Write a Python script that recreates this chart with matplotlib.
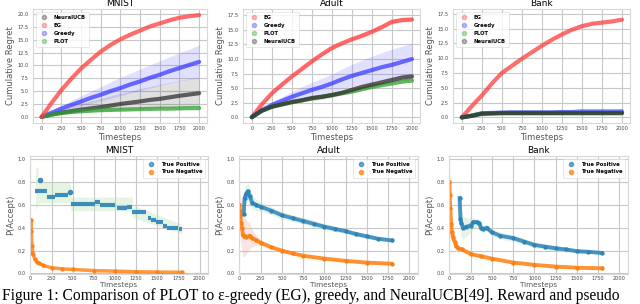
import numpy as np
import matplotlib.pyplot as plt
from matplotlib.lines import Line2D

# ---------------- data: cumulative regret (top row) ----------------
steps = [0, 125, 250, 375, 500, 625, 750, 875, 1000, 1125, 1250, 1375, 1500, 1625, 1750, 1875, 2000]

mnist_eg = [0, 2.7, 5.2, 7.4, 9.4, 11.1, 12.7, 14.0, 15.1, 16.0, 16.8, 17.6, 18.2, 18.8, 19.3, 19.6, 19.8]
mnist_greedy = [0, 0.8, 1.6, 2.3, 3.0, 3.7, 4.3, 5.0, 5.6, 6.3, 6.9, 7.6, 8.2, 8.9, 9.5, 10.1, 10.7]
mnist_greedy_hi = [0, 1.2, 2.2, 3.2, 4.1, 5.0, 5.9, 6.8, 7.7, 8.5, 9.3, 10.1, 10.9, 11.7, 12.5, 13.2, 14.0]
mnist_greedy_lo = [0, 0.5, 1.1, 1.6, 2.1, 2.6, 3.1, 3.6, 4.1, 4.6, 5.1, 5.6, 6.1, 6.6, 7.0, 7.3, 7.6]
mnist_nucb = [0, 0.45, 0.8, 1.1, 1.4, 1.65, 1.9, 2.2, 2.5, 2.75, 3.0, 3.3, 3.5, 3.8, 4.1, 4.35, 4.6]
mnist_nucb_hi = [0, 0.8, 1.5, 2.0, 2.6, 3.1, 3.6, 4.1, 4.6, 5.0, 5.5, 5.9, 6.3, 6.7, 7.1, 7.4, 7.7]
mnist_nucb_lo = [0, 0.3, 0.5, 0.7, 0.8, 0.95, 1.1, 1.2, 1.35, 1.45, 1.55, 1.65, 1.75, 1.85, 1.95, 2.05, 2.1]
mnist_plot = [0, 0.45, 0.75, 0.95, 1.1, 1.2, 1.3, 1.35, 1.4, 1.45, 1.5, 1.55, 1.6, 1.6, 1.65, 1.7, 1.7]

adult_eg = [0, 2.2, 4.1, 5.6, 7.0, 8.3, 9.6, 10.8, 11.9, 12.7, 13.4, 14.0, 14.7, 15.5, 16.4, 16.7, 16.8]
adult_eg_hi = [0, 2.4, 4.4, 5.9, 7.3, 8.6, 9.9, 11.1, 12.2, 13.0, 13.7, 14.4, 15.1, 15.9, 16.8, 17.1, 17.2]
adult_eg_lo = [0, 2.0, 3.8, 5.3, 6.7, 8.0, 9.3, 10.5, 11.6, 12.4, 13.1, 13.6, 14.3, 15.1, 16.0, 16.3, 16.4]
adult_greedy = [0, 1.2, 2.1, 2.8, 3.5, 4.1, 4.7, 5.2, 5.8, 6.5, 7.1, 7.6, 8.1, 8.6, 9.0, 9.5, 10.0]
adult_greedy_hi = [0, 1.5, 2.6, 3.5, 4.4, 5.2, 6.0, 6.7, 7.4, 8.3, 9.1, 9.8, 10.5, 11.1, 11.7, 12.2, 12.7]
adult_greedy_lo = [0, 0.9, 1.6, 2.1, 2.6, 3.0, 3.4, 3.8, 4.2, 4.8, 5.3, 5.7, 6.1, 6.5, 6.8, 7.1, 7.4]
adult_plot = [0, 1.1, 1.8, 2.2, 2.6, 2.9, 3.2, 3.5, 3.8, 4.1, 4.4, 4.8, 5.2, 5.5, 5.8, 6.1, 6.3]
adult_nucb = [0, 1.1, 1.8, 2.2, 2.6, 2.9, 3.3, 3.5, 3.8, 4.2, 4.7, 5.2, 5.6, 6.0, 6.4, 6.8, 7.0]
adult_nucb_hi = [0, 1.3, 2.1, 2.5, 2.9, 3.3, 3.7, 4.0, 4.3, 4.7, 5.2, 5.7, 6.1, 6.5, 6.9, 7.3, 7.6]
adult_nucb_lo = [0, 0.9, 1.5, 1.9, 2.3, 2.6, 2.9, 3.1, 3.4, 3.8, 4.2, 4.7, 5.1, 5.5, 5.9, 6.3, 6.5]

bank_eg = [0, 1.9, 3.7, 5.7, 7.5, 8.7, 9.9, 11.0, 12.1, 13.1, 14.0, 14.8, 15.4, 15.8, 16.0, 16.2, 16.5]
bank_greedy = [0, 0.3, 0.7, 0.75, 0.8, 0.85, 0.85, 0.85, 0.85, 0.85, 0.9, 0.9, 1.0, 1.0, 1.0, 1.0, 1.0]
bank_plot = [0, 0.3, 0.65, 0.7, 0.75, 0.75, 0.75, 0.75, 0.75, 0.75, 0.75, 0.75, 0.75, 0.75, 0.75, 0.75, 0.75]
bank_nucb = [0, 0.25, 0.6, 0.65, 0.7, 0.7, 0.7, 0.7, 0.7, 0.7, 0.7, 0.7, 0.7, 0.7, 0.7, 0.7, 0.7]

# ---------------- data: P(Accept) (bottom row) ----------------
# MNIST true positive is piecewise flat: (start, end, level)
mnist_tp_start = [60, 200, 290, 480, 760, 820, 1020, 1140, 1200, 1390, 1430, 1490, 1570, 1610, 1760]
mnist_tp_end = [200, 290, 450, 760, 820, 1000, 1140, 1200, 1370, 1430, 1490, 1570, 1610, 1750, 1790]
mnist_tp_level = [0.72, 0.67, 0.69, 0.61, 0.63, 0.60, 0.57, 0.58, 0.54, 0.49, 0.47, 0.45, 0.42, 0.40, 0.39]
mnist_tp_extra_t = [110, 470]
mnist_tp_extra_v = [0.82, 0.71]
mnist_band_t = [60, 90, 100, 470, 480, 1200, 1210, 1790]
mnist_band_hi = [0.93, 0.93, 0.80, 0.80, 0.67, 0.67, 0.60, 0.43]
mnist_band_lo = [0.56, 0.60, 0.62, 0.62, 0.55, 0.55, 0.49, 0.35]
mnist_tn_t = [0, 5, 10, 18, 30, 50, 75, 100, 150, 250, 375, 500, 750, 1000, 1250, 1500, 1790]
mnist_tn = [0.18, 0.47, 0.37, 0.24, 0.17, 0.13, 0.10, 0.09, 0.07, 0.05, 0.04, 0.035, 0.025, 0.02, 0.015, 0.012, 0.01]

adult_tp_t = [50, 60, 80, 100, 120, 150, 200, 250, 375, 500, 625, 750, 875, 1000, 1125, 1250, 1375, 1500, 1625, 1790]
adult_tp = [0.52, 0.66, 0.70, 0.72, 0.68, 0.62, 0.60, 0.585, 0.55, 0.51, 0.485, 0.46, 0.435, 0.41, 0.39, 0.37, 0.345, 0.325, 0.305, 0.29]
adult_tp_hi = [0.60, 0.74, 0.78, 0.80, 0.76, 0.68, 0.65, 0.625, 0.585, 0.545, 0.515, 0.49, 0.465, 0.435, 0.415, 0.39, 0.365, 0.345, 0.32, 0.305]
adult_tp_lo = [0.44, 0.58, 0.62, 0.64, 0.60, 0.56, 0.55, 0.545, 0.515, 0.475, 0.455, 0.43, 0.405, 0.385, 0.365, 0.35, 0.325, 0.305, 0.29, 0.275]
adult_tn_t = [0, 5, 10, 20, 30, 40, 50, 80, 120, 150, 200, 250, 375, 500, 625, 750, 1000, 1250, 1500, 1790]
adult_tn = [0.60, 0.55, 0.50, 0.44, 0.40, 0.34, 0.33, 0.32, 0.33, 0.31, 0.29, 0.27, 0.23, 0.20, 0.175, 0.155, 0.13, 0.11, 0.095, 0.085]
adult_tn_hi = [0.75, 0.72, 0.70, 0.64, 0.60, 0.55, 0.52, 0.47, 0.44, 0.39, 0.33, 0.29, 0.245, 0.21, 0.185, 0.16, 0.135, 0.115, 0.10, 0.09]
adult_tn_lo = [0.45, 0.38, 0.30, 0.24, 0.20, 0.15, 0.14, 0.17, 0.22, 0.23, 0.25, 0.25, 0.215, 0.19, 0.165, 0.15, 0.125, 0.105, 0.09, 0.08]

bank_tp_t = [120, 130, 140, 160, 200, 250, 280, 320, 350, 370, 400, 440, 500, 600, 750, 875, 1000, 1125, 1250, 1375, 1500, 1625, 1790]
bank_tp = [0.66, 0.48, 0.44, 0.40, 0.41, 0.42, 0.45, 0.45, 0.44, 0.40, 0.39, 0.40, 0.36, 0.33, 0.31, 0.28, 0.25, 0.235, 0.22, 0.21, 0.195, 0.19, 0.18]
bank_tp_hi = [0.85, 0.62, 0.56, 0.50, 0.49, 0.48, 0.49, 0.48, 0.47, 0.44, 0.42, 0.43, 0.39, 0.36, 0.34, 0.305, 0.275, 0.26, 0.245, 0.23, 0.215, 0.205, 0.195]
bank_tp_lo = [0.47, 0.34, 0.32, 0.30, 0.33, 0.36, 0.40, 0.41, 0.41, 0.36, 0.36, 0.37, 0.33, 0.30, 0.28, 0.255, 0.225, 0.21, 0.195, 0.19, 0.175, 0.175, 0.165]
bank_tn_t = [0, 3, 10, 20, 30, 40, 60, 80, 100, 150, 250, 375, 500, 750, 1000, 1250, 1500, 1790]
bank_tn = [0.80, 0.69, 0.57, 0.43, 0.36, 0.32, 0.28, 0.24, 0.22, 0.21, 0.17, 0.15, 0.13, 0.095, 0.075, 0.06, 0.05, 0.045]

RED = '#ff3b3b'
BLUE = '#3b3bff'
BLACK = '#303030'
GREEN = '#2ca02c'
TP = '#2b83ba'
TN = '#ff7f0e'

plt.rcParams['font.family'] = 'DejaVu Sans'

fig = plt.figure(figsize=(6.4, 3.04), dpi=100)


def px_axes(left, right, top, bottom):
    W, H = 640.0, 304.0
    return fig.add_axes([left / W, 1 - bottom / H, (right - left) / W, (bottom - top) / H])


def style(ax, title, ylabel, xpad=1, xsize=6):
    ax.set_facecolor('white')
    ax.grid(True, color='#c8c8c8', linewidth=0.8)
    ax.set_axisbelow(True)
    for s in ax.spines.values():
        s.set_color('#d8d8d8')
        s.set_linewidth(0.8)
    ax.tick_params(labelsize=3.6, colors='#444444', length=0, pad=3)
    ax.tick_params(axis='x', pad=2.5)
    ax.set_title(title, fontsize=6.5, pad=2)
    ax.set_xlabel('Timesteps', fontsize=xsize, color='#555555', labelpad=xpad)
    ax.set_ylabel(ylabel, fontsize=6, color='#555555', labelpad=2)


def regret_legend(ax, names, colors):
    handles = [Line2D([], [], marker='o', ls='none', color=c, alpha=0.35, ms=3) for c in colors]
    leg = ax.legend(handles, names, loc='upper left', frameon=True,
                    handletextpad=0.8, borderpad=0.6, labelspacing=0.6, prop={'size': 3.8, 'weight': 'bold'})
    leg.get_frame().set_edgecolor('#dddddd')
    leg.get_frame().set_linewidth(0.6)


def draw_regret(ax, y, color, lo=None, hi=None):
    if lo is not None:
        ax.fill_between(steps, lo, hi, color=color, alpha=0.15, lw=0)
    ax.plot(steps, y, color=color, lw=3, alpha=0.75, solid_capstyle='round')


# ---- top row ----
ax1 = px_axes(33, 207, 9, 123)
draw_regret(ax1, mnist_nucb, BLACK, mnist_nucb_lo, mnist_nucb_hi)
draw_regret(ax1, mnist_greedy, BLUE, mnist_greedy_lo, mnist_greedy_hi)
draw_regret(ax1, mnist_plot, GREEN)
draw_regret(ax1, mnist_eg, RED)
ax1.set_xlim(-110, 2100)
ax1.set_ylim(-1.2, 21)
ax1.set_yticks(np.arange(0, 20.1, 2.5))
ax1.set_xticks(np.arange(0, 2001, 250))
style(ax1, 'MNIST', 'Cumulative Regret')
regret_legend(ax1, ['NeuralUCB', 'EG', 'Greedy', 'PLOT'], [BLACK, RED, BLUE, GREEN])

ax2 = px_axes(243, 420, 9, 123)
draw_regret(ax2, adult_eg, RED, adult_eg_lo, adult_eg_hi)
draw_regret(ax2, adult_greedy, BLUE, adult_greedy_lo, adult_greedy_hi)
draw_regret(ax2, adult_plot, GREEN)
draw_regret(ax2, adult_nucb, BLACK, adult_nucb_lo, adult_nucb_hi)
ax2.set_xlim(-110, 2100)
ax2.set_ylim(-1.0, 18.6)
ax2.set_yticks(np.arange(0, 17.6, 2.5))
ax2.set_xticks(np.arange(0, 2001, 250))
style(ax2, 'Adult', 'Cumulative Regret')
regret_legend(ax2, ['EG', 'Greedy', 'PLOT', 'NeuralUCB'], [RED, BLUE, GREEN, BLACK])

ax3 = px_axes(453, 630, 9, 123)
draw_regret(ax3, bank_eg, RED)
draw_regret(ax3, bank_greedy, BLUE)
draw_regret(ax3, bank_plot, GREEN)
draw_regret(ax3, bank_nucb, BLACK)
ax3.set_xlim(-110, 2100)
ax3.set_ylim(-0.95, 18.3)
ax3.set_yticks(np.arange(0, 17.6, 2.5))
ax3.set_xticks(np.arange(0, 2001, 250))
style(ax3, 'Bank', 'Cumulative Regret')
regret_legend(ax3, ['EG', 'Greedy', 'PLOT', 'NeuralUCB'], [RED, BLUE, GREEN, BLACK])


# ---- bottom row ----
def accept_axes(ax, title):
    ax.set_xlim(-5, 2100)
    ax.set_ylim(-0.005, 1.03)
    ax.set_xticks(np.arange(0, 2001, 250))
    ax.set_yticks(np.arange(0, 1.01, 0.2))
    style(ax, title, 'P(Accept)', xpad=0, xsize=5.2)
    ax.tick_params(axis='x', pad=1.8)
    handles = [Line2D([], [], marker='o', ls='none', color=TP, alpha=0.7, ms=3),
               Line2D([], [], marker='o', ls='none', color=TN, alpha=0.7, ms=3)]
    leg = ax.legend(handles, ['True Positive', 'True Negative'], loc='upper right',
                    prop={'size': 3.8, 'weight': 'bold'}, handletextpad=0.8,
                    borderpad=0.6, labelspacing=0.5)
    leg.get_frame().set_edgecolor('#dddddd')
    leg.get_frame().set_linewidth(0.6)


bx1 = px_axes(30, 208, 156, 274)
bx1.fill_between(mnist_band_t, mnist_band_lo, mnist_band_hi, color='#b8e0b0', alpha=0.35, lw=0)
bx1.hlines(mnist_tp_level, mnist_tp_start, mnist_tp_end, color=TP, lw=3, alpha=0.9)
bx1.plot(mnist_tp_extra_t, mnist_tp_extra_v, 'o', color=TP, ms=3, alpha=0.9)
bx1.plot(mnist_tn_t, mnist_tn, color=TN, lw=2.5, alpha=0.8, marker='o', ms=2.2)
accept_axes(bx1, 'MNIST')

bx2 = px_axes(239, 418, 156, 274)
bx2.fill_between(adult_tp_t, adult_tp_lo, adult_tp_hi, color='#b8e0b0', alpha=0.35, lw=0)
bx2.fill_between(adult_tn_t, adult_tn_lo, adult_tn_hi, color='#f4a6a6', alpha=0.3, lw=0)
bx2.plot(adult_tp_t, adult_tp, color=TP, lw=2.8, alpha=0.85, marker='o', ms=2.2)
bx2.plot(adult_tn_t, adult_tn, color=TN, lw=2.8, alpha=0.85, marker='o', ms=2.2)
accept_axes(bx2, 'Adult')

bx3 = px_axes(449, 628, 156, 274)
bx3.fill_between(bank_tp_t, bank_tp_lo, bank_tp_hi, color='#b8e0b0', alpha=0.35, lw=0)
bx3.plot(bank_tp_t, bank_tp, color=TP, lw=2.8, alpha=0.85, marker='o', ms=2.2)
bx3.plot(bank_tn_t, bank_tn, color=TN, lw=2.8, alpha=0.85, marker='o', ms=2.2)
accept_axes(bx3, 'Bank')

# caption along the bottom edge
fig.text(0.003, 3.6 / 304, 'Figure 1: Comparison of PLOT to \u03b5-greedy (EG), greedy, and NeuralUCB[49]. Reward and pseudo',
         family='Liberation Serif', fontsize=11.2, va='baseline', ha='left')

fig.savefig('out.png', dpi=100, facecolor='white')
